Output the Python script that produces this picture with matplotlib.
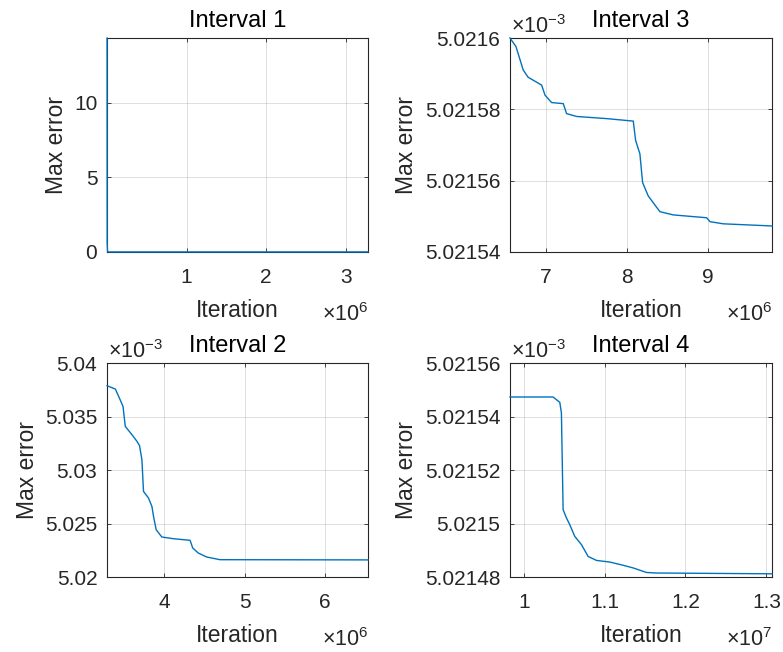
import numpy as np
import matplotlib
matplotlib.use("Agg")
import matplotlib.pyplot as plt
from matplotlib.ticker import FuncFormatter

plt.rcParams['font.family'] = ['Liberation Sans', 'DejaVu Sans']
plt.rcParams['mathtext.fontset'] = 'custom'
plt.rcParams['mathtext.rm'] = 'Liberation Sans'
plt.rcParams['mathtext.default'] = 'regular'

# max error vs iteration, four intervals
it1 = [1, 1.5e3, 6e3, 3.0e4, 3.28e6]
err1 = [14.36, 0.6, 0.02, 0.0055, 5.03788e-3]

it2 = [3.296e6, 3.399e6, 3.44e6, 3.494e6, 3.522e6, 3.605e6, 3.667e6, 3.699e6,
       3.728e6, 3.748e6, 3.81e6, 3.852e6, 3.872e6, 3.905e6, 3.975e6, 4.119e6,
       4.325e6, 4.358e6, 4.427e6, 4.531e6, 4.695e6, 6.53e6]
err2 = [5.03788e-3, 5.03757e-3, 5.03688e-3, 5.03595e-3, 5.03408e-3, 5.0333e-3,
        5.03268e-3, 5.03227e-3, 5.03097e-3, 5.028e-3, 5.02738e-3, 5.0266e-3,
        5.02567e-3, 5.02442e-3, 5.02374e-3, 5.02358e-3, 5.02343e-3, 5.02271e-3,
        5.02224e-3, 5.02187e-3, 5.02162e-3, 5.0216e-3]

it3 = [6.556e6, 6.63e6, 6.72e6, 6.78e6, 6.947e6, 6.988e6, 7.07e6, 7.214e6,
       7.255e6, 7.379e6, 7.75e6, 8.078e6, 8.107e6, 8.16e6, 8.193e6, 8.263e6,
       8.407e6, 8.572e6, 8.984e6, 9.025e6, 9.19e6, 9.79e6]
err3 = [5.0216e-3, 5.0215976e-3, 5.021591e-3, 5.021589e-3, 5.0215868e-3,
        5.021584e-3, 5.0215819e-3, 5.0215816e-3, 5.0215788e-3, 5.021578e-3,
        5.0215774e-3, 5.0215767e-3, 5.0215713e-3, 5.0215675e-3, 5.0215595e-3,
        5.0215557e-3, 5.0215513e-3, 5.0215504e-3, 5.0215496e-3, 5.0215485e-3,
        5.0215479e-3, 5.0215473e-3]

it4 = [0.983e7, 1.0363e7, 1.0446e7, 1.0466e7, 1.0487e7, 1.0528e7, 1.0569e7,
       1.0631e7, 1.0714e7, 1.0796e7, 1.09e7, 1.1064e7, 1.1229e7, 1.1353e7,
       1.1518e7, 1.1642e7, 1.3069e7]
err4 = [5.0215473e-3, 5.0215473e-3, 5.0215453e-3, 5.0215413e-3, 5.0215052e-3,
        5.0215021e-3, 5.0214996e-3, 5.0214952e-3, 5.0214921e-3, 5.0214877e-3,
        5.0214862e-3, 5.0214856e-3, 5.0214844e-3, 5.0214834e-3, 5.0214817e-3,
        5.0214815e-3, 5.0214812e-3]

xticks1 = [1e6, 2e6, 3e6]
yticks1 = [0, 5, 10]
xticks2 = [4e6, 5e6, 6e6]
yticks2 = [5.02e-3, 5.025e-3, 5.03e-3, 5.035e-3, 5.04e-3]
xticks3 = [7e6, 8e6, 9e6]
yticks3 = [5.02154e-3, 5.02156e-3, 5.02158e-3, 5.0216e-3]
xticks4 = [1.0e7, 1.1e7, 1.2e7, 1.3e7]
yticks4 = [5.02148e-3, 5.0215e-3, 5.02152e-3, 5.02154e-3, 5.02156e-3]

TXT = '#262626'
BLUE = '#0072BD'

fig = plt.figure(figsize=(7.83, 6.52), dpi=100)


def panel(rect, it, err, title, xlim, ylim, xticks, yticks, xexp, yexp=None):
    ax = fig.add_axes(rect)
    ax.plot(it, err, color=BLUE, lw=1.0, zorder=3, clip_on=False)
    ax.set_xlim(xlim)
    ax.set_ylim(ylim)
    ax.set_xticks(xticks)
    ax.set_yticks(yticks)
    ax.xaxis.set_major_formatter(FuncFormatter(lambda v, p: '%g' % (v / 10 ** xexp)))
    if yexp is None:
        ax.yaxis.set_major_formatter(FuncFormatter(lambda v, p: '%g' % v))
    else:
        ax.yaxis.set_major_formatter(FuncFormatter(lambda v, p: '%g' % (v / 10 ** yexp)))
        ax.annotate(r'$\times10^{%d}$' % yexp, xy=(0, 1), xycoords='axes fraction',
                    xytext=(1, 3.5), textcoords='offset points', ha='left',
                    va='baseline', fontsize=15.5, color=TXT)
    ax.annotate(r'$\times10^{%d}$' % xexp, xy=(1, 0), xycoords='axes fraction',
                xytext=(0, -49.5), textcoords='offset points', ha='right',
                va='baseline', fontsize=15.5, color=TXT)
    ax.grid(True, color=TXT, alpha=0.15, lw=0.7)
    ax.set_axisbelow(True)
    for s in ax.spines.values():
        s.set_color(TXT)
        s.set_linewidth(0.8)
    ax.tick_params(direction='in', length=3, width=0.6, color=TXT,
                   labelcolor=TXT, labelsize=15, top=True, right=True)
    ax.tick_params(axis='x', pad=11.5)
    ax.tick_params(axis='y', pad=7)
    ax.set_title(title, fontsize=17, color='black', pad=8)
    ax.set_xlabel('Iteration', fontsize=16.5, color=TXT, labelpad=9)
    ax.set_ylabel('Max error', fontsize=16.5, color=TXT, labelpad=4.5)
    return ax


panel([0.1367, 0.6135, 0.3333, 0.3282], it1, err1, 'Interval 1',
      (1, 3.28e6), (0, 14.36), xticks1, yticks1, 6)
panel([0.6513, 0.6135, 0.3346, 0.3282], it3, err3, 'Interval 3',
      (6.556e6, 9.79e6), (5.02154e-3, 5.0216e-3), xticks3, yticks3, 6, -3)
panel([0.1367, 0.115, 0.3333, 0.3282], it2, err2, 'Interval 2',
      (3.296e6, 6.53e6), (5.02e-3, 5.04e-3), xticks2, yticks2, 6, -3)
panel([0.6513, 0.115, 0.3346, 0.3282], it4, err4, 'Interval 4',
      (0.983e7, 1.3069e7), (5.02148e-3, 5.02156e-3), xticks4, yticks4, 7, -3)

fig.savefig('out.png', dpi=100)
